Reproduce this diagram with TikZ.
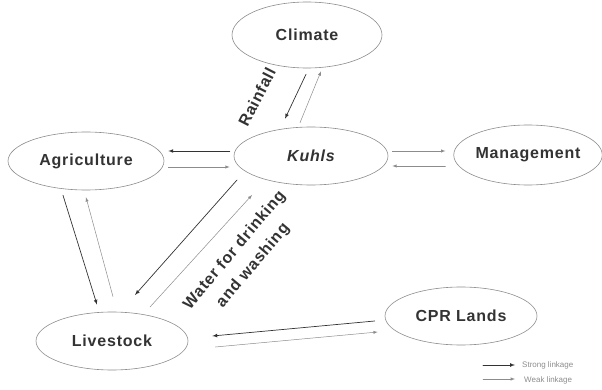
\documentclass[tikz,border=0pt]{standalone}
\usepackage{fontspec}
\setmainfont{Liberation Sans}
\newfontfamily\wideface[LetterSpace=5]{Liberation Sans}
\usetikzlibrary{shapes.geometric,calc}
\definecolor{inkgray}{HTML}{333333}
\definecolor{rimgray}{HTML}{8C8C8C}
\tikzset{
  blob/.style={ellipse, draw=rimgray, line width=0.6pt, inner sep=0pt,
    text=inkgray, font=\wideface\fontsize{16}{18}\selectfont\bfseries},
  strongline/.style={->, draw=black!80, line width=0.7pt},
  weakline/.style={->, draw=black!45, line width=0.5pt},
  lbl/.style={text=inkgray, font=\wideface\fontsize{16}{24}\selectfont\bfseries},
  keytext/.style={text=black!45, font=\fontsize{8}{9}\selectfont, anchor=west, inner sep=0pt}
}
\begin{document}
\begin{tikzpicture}[x=1pt,y=-1pt,line cap=round,>=latex]
  \useasboundingbox (0,0) rectangle (602,390);
  \node[blob, minimum width=150pt, minimum height=66pt] (climate) at (307,35) {Climate};
  \node[blob, minimum width=154pt, minimum height=58pt] (kuhls) at (311,156) {\itshape Kuhls};
  \node[blob, minimum width=156pt, minimum height=58pt] (agri) at (86,161) {Agriculture};
  \node[blob, minimum width=144pt, minimum height=60pt] (mgmt) at (528,155) {Management};
  \node[blob, minimum width=152pt, minimum height=58pt] (live) at (112,341) {Livestock};
  \node[blob, minimum width=152pt, minimum height=58pt] (cpr) at (461,316) {CPR Lands};

  % Kuhls <-> Agriculture
  \draw[strongline] ($(kuhls.west)+(-4,-5)$) -- ($(agri.east)+(4,-10)$);
  \draw[weakline] ($(agri.east)+(4,6)$) -- ($(kuhls.west)+(-4,11)$);
  % Kuhls <-> Management
  \draw[weakline] ($(kuhls.east)+(4,-5)$) -- ($(mgmt.west)+(-8,-4)$);
  \draw[weakline] ($(mgmt.west)+(-8,11)$) -- ($(kuhls.east)+(4,10)$);
  % Climate <-> Kuhls
  \draw[strongline] ($(climate.south)+(-1,6)$) -- ($(kuhls.north)+(-26,-8)$);
  \draw[weakline] ($(kuhls.north)+(-11,-4)$) -- ($(climate.south)+(14,3)$);
  \node[lbl, rotate=63] (rain) at (257,97) {Rainfall};
  % Agriculture <-> Livestock
  \draw[strongline] ($(agri.south)+(-23,5)$) -- ($(live.north)+(-15,-7)$);
  \draw[weakline] ($(live.north)+(1,-15)$) -- ($(agri.south)+(0,7)$);
  % Kuhls <-> Livestock
  \draw[strongline] ($(kuhls.center)+(-74,24)$) -- ($(live.center)+(23,-46)$);
  \draw[weakline] ($(live.center)+(38,-34)$) -- ($(kuhls.center)+(-59,39)$);
  \node[lbl, rotate=50, align=center] (water) at (244,258) {Water for drinking\\and washing};
  % Livestock <-> CPR Lands
  \draw[strongline] ($(cpr.west)+(-10,5)$) -- ($(live.east)+(24,-5)$);
  \draw[weakline] ($(live.east)+(27,6)$) -- ($(cpr.west)+(-7,16)$);

  % key
  \coordinate (k1) at (483,365);
  \coordinate (k2) at (483,379);
  \node[keytext] (kstrong) at (522,365) {Strong linkage};
  \node[keytext] (kweak) at (524,380) {Weak linkage};
  \draw[strongline] (k1) -- ($(kstrong.west)+(-7,0)$);
  \draw[weakline] (k2) -- ($(kweak.west)+(-9,-1)$);
\end{tikzpicture}
\end{document}
